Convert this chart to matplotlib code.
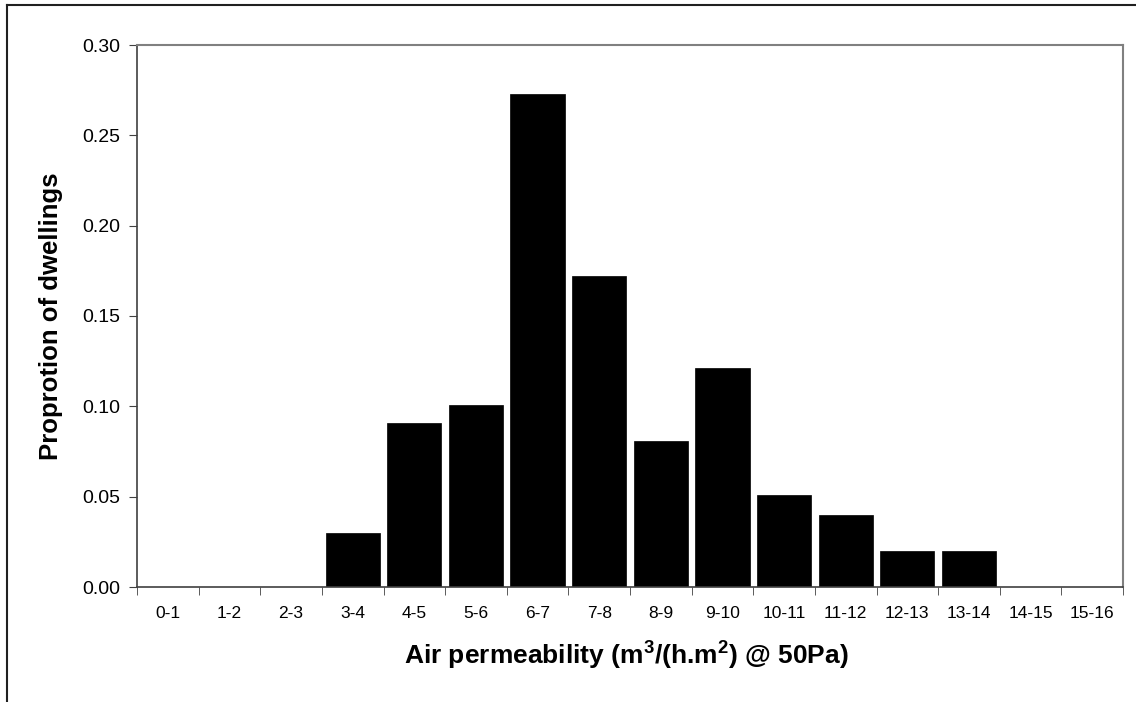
import matplotlib
matplotlib.use("Agg")
import matplotlib.pyplot as plt
from matplotlib.lines import Line2D

categories = ["0-1", "1-2", "2-3", "3-4", "4-5", "5-6", "6-7", "7-8",
              "8-9", "9-10", "10-11", "11-12", "12-13", "13-14", "14-15", "15-16"]
proportions = [0.0, 0.0, 0.0, 0.030, 0.091, 0.101, 0.273, 0.172,
               0.081, 0.121, 0.051, 0.040, 0.020, 0.020, 0.0, 0.0]
yticks = [0.00, 0.05, 0.10, 0.15, 0.20, 0.25, 0.30]

plt.rcParams['font.family'] = ['Liberation Sans', 'DejaVu Sans']
plt.rcParams['mathtext.default'] = 'regular'
plt.rcParams['mathtext.fontset'] = 'custom'
plt.rcParams['mathtext.rm'] = 'Liberation Sans:bold'

W, H = 1136, 702
fig = plt.figure(figsize=(W / 100, H / 100), dpi=100)
# outer chart border (top and left visible)
fig.lines.append(Line2D([6.5 / W, 1.0], [1 - 4.5 / H, 1 - 4.5 / H], transform=fig.transFigure,
                        color='#202020', linewidth=1.5))
fig.lines.append(Line2D([6.5 / W, 6.5 / W], [0, 1 - 4.5 / H], transform=fig.transFigure,
                        color='#202020', linewidth=1.5))

left, right, top, bottom = 137, 1123, 45, 587
ax = fig.add_axes([left / W, 1 - bottom / H, (right - left) / W, (bottom - top) / H])

x = list(range(len(categories)))
ax.bar(x, proportions, width=0.88, color='black', edgecolor='black', linewidth=0.5)

ax.set_xlim(-0.5, len(categories) - 0.5)
ax.set_ylim(0, 0.30)
ax.set_yticks(yticks)
ax.set_yticklabels([f"{v:.2f}" for v in yticks], fontsize=14)

ax.set_xticks(x)
ax.set_xticklabels(categories, fontsize=12.5)
ax.tick_params(axis='x', which='major', length=0, pad=14)
ax.set_xticks([i - 0.5 for i in range(len(categories) + 1)], minor=True)
ax.tick_params(axis='x', which='minor', length=6, color='#404040', direction='out')
ax.tick_params(axis='y', length=6, color='#404040', direction='out', pad=6)

for s in ['top', 'right']:
    ax.spines[s].set_color('#808080')
    ax.spines[s].set_linewidth(1.5)
for s in ['left', 'bottom']:
    ax.spines[s].set_color('#404040')
    ax.spines[s].set_linewidth(1.2)

ax.set_xlabel(r"Air permeability (m$^{3}$/(h.m$^{2}$) @ 50Pa)", fontsize=19, fontweight='bold',
              va='center')
ax.xaxis.set_label_coords((626 - left) / (right - left), (bottom - 656) / (bottom - top))
ax.set_ylabel("Proprotion of dwellings", fontsize=18.5, fontweight='bold', va='center')
ax.yaxis.set_label_coords((51 - left) / (right - left), (bottom - 316) / (bottom - top))

fig.savefig("out.png", dpi=100)
